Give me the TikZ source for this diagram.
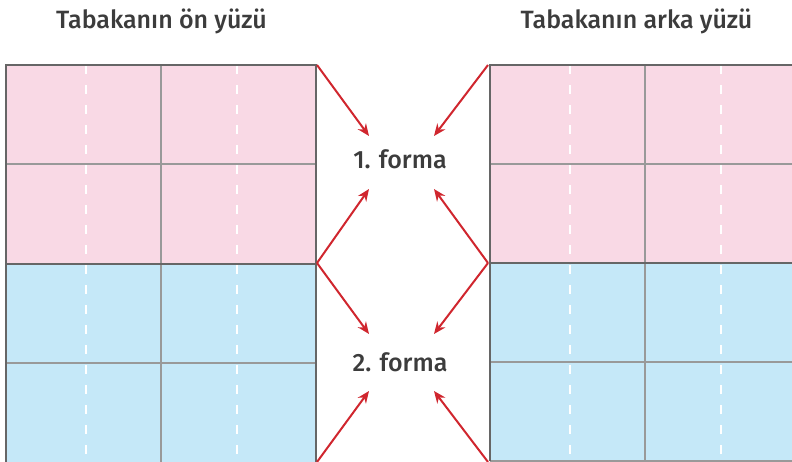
\documentclass[tikz,border=0pt]{standalone}
\usepackage{fontspec}
\setmainfont{Fira Sans Medium}
\usetikzlibrary{arrows.meta,calc,positioning}

\definecolor{sheetpink}{HTML}{F9D9E5}
\definecolor{sheetblue}{HTML}{C5E8F8}
\definecolor{framegray}{HTML}{666666}
\definecolor{linegray}{HTML}{999999}
\definecolor{arrowred}{HTML}{D0262E}
\definecolor{textgray}{HTML}{3C3C3C}

\begin{document}
\begin{tikzpicture}[x=1pt, y=-1pt,
  label/.style={text=textgray, font=\fontsize{25}{28}\selectfont, inner sep=0pt},
  fold/.style={draw=white, line width=2.2pt, dash pattern=on 9pt off 11pt},
  cutline/.style={draw=linegray, line width=1.5pt},
  frameline/.style={draw=framegray, line width=2pt},
  redarrow/.style={draw=arrowred, line width=2pt, -{Stealth[length=12pt, width=10pt]}}]
  \useasboundingbox (0,0) rectangle (792,462);
  \clip (0,0) rectangle (792,462);

  \node[label] (front) at (161.5,21) {Tabakanın ön yüzü};
  \node[label] (back) at (636.5,21) {Tabakanın arka yüzü};
  \node[label] (f1) at (400,159) {1. forma};
  \node[label] (f2) at (400,362) {2. forma};

  \fill[sheetpink] (6,65) rectangle (316,264);
  \fill[sheetblue] (6,264) rectangle (316,470);
  \fill[sheetpink] (490,65) rectangle (800,263);
  \fill[sheetblue] (490,263) rectangle (800,461);

  \draw[fold] (86,65) -- (86,470);
  \draw[fold] (237,65) -- (237,470);
  \draw[fold] (570,65) -- (570,461);
  \draw[fold] (721,65) -- (721,461);

  \draw[cutline] (161,65) -- (161,470);
  \draw[cutline] (6,164) -- (316,164);
  \draw[cutline] (6,363) -- (316,363);
  \draw[cutline] (645,65) -- (645,461);
  \draw[cutline] (490,164) -- (800,164);
  \draw[cutline] (490,362) -- (800,362);
  \draw[cutline] (490,461) -- (800,461);

  \draw[frameline] (6,470) -- (6,65) -- (316,65) -- (316,470);
  \draw[frameline] (6,264) -- (316,264);
  \draw[frameline] (800,65) -- (490,65) -- (490,461);
  \draw[frameline] (490,263) -- (800,263);

  \coordinate (ltop) at (317,65);
  \coordinate (lmid) at (317,263);
  \coordinate (lbot) at (317,462);
  \coordinate (rtop) at (488,65);
  \coordinate (rmid) at (488,263);
  \coordinate (rbot) at (488,462);
  \coordinate (f1nw) at (369,136);
  \coordinate (f1ne) at (434,136);
  \coordinate (f1sw) at (369,189);
  \coordinate (f1se) at (434,189);
  \coordinate (f2nw) at (369,334);
  \coordinate (f2ne) at (434,334);
  \coordinate (f2sw) at (369,391);
  \coordinate (f2se) at (434,391);

  \draw[redarrow] (ltop) -- (f1nw);
  \draw[redarrow] (rtop) -- (f1ne);
  \draw[redarrow] (lmid) -- (f1sw);
  \draw[redarrow] (rmid) -- (f1se);
  \draw[redarrow] (lmid) -- (f2nw);
  \draw[redarrow] (rmid) -- (f2ne);
  \draw[redarrow] (lbot) -- (f2sw);
  \draw[redarrow] (rbot) -- (f2se);
\end{tikzpicture}
\end{document}
